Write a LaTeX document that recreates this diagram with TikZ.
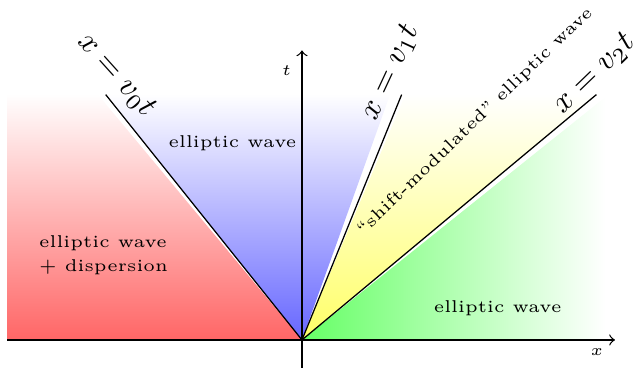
\documentclass[tikz,border=0pt]{standalone}
\begin{document}
\begin{tikzpicture}[font=\fontsize{5.4}{6.5}\selectfont]
            \useasboundingbox (-3.348,-0.310) rectangle (3.692,3.769);
            % the four regions
            \shade[top color=white, bottom color=red!60] (-3.27,0) -- (-3.27,2.73) -- (-2.27,2.73) -- (0,0) -- cycle;
            \shade[top color=white, bottom color=blue!60] (0,0) -- (-2.18,2.73) -- (0.98,2.73) -- cycle;
            \shade[top color=white, bottom color=yellow!60] (0,0) -- (1.15,2.73) -- (3.276,2.73) -- cycle;
            \shade[left color=green!60, right color=white] (0,0) -- (3.36,0) -- (3.36,2.69) -- cycle;
            % axes
            \coordinate (O) at (0,0);
            \coordinate (xmin) at (-3.27,0);
            \coordinate (xmax) at (3.47,0);
            \coordinate (tmin) at (0,-0.31);
            \coordinate (tmax) at (0,3.21);
            \draw[->] (xmin)--(xmax);
            \draw[->] (tmin)--(tmax);
            \node (xlab) at (3.27,-0.13) {$x$};
            \node (tlab) at (-0.17,2.99) {$t$};
            % characteristic lines
            \coordinate (v0) at (-2.176,2.72);
            \coordinate (v1) at (1.105,2.72);
            \coordinate (v2) at (3.264,2.72);
            \draw (O)--(v0);
            \draw (O)--(v1);
            \draw (O)--(v2);
            \node[font=\normalsize, rotate=-48] (v0lab) at (-2.06,2.93) {$x=v_0t$};
            \node[font=\normalsize, rotate=65] (v1lab) at (0.98,2.97) {$x=v_1t$};
            \node[font=\normalsize, rotate=44, inner sep=1pt] (v2lab) at (3.24,2.95) {$x=v_2t$};
            % region labels
            \node (blue) at (-0.77,2.18) {elliptic wave};
            \node[align=left] (red) at (-2.2,0.94) {elliptic wave\\[1pt] + dispersion};
            \node[rotate=44] (yellow) at (1.92,2.42) {``shift-modulated'' elliptic wave};
            \node (green) at (2.17,0.355) {elliptic wave};
        \end{tikzpicture}
\end{document}
